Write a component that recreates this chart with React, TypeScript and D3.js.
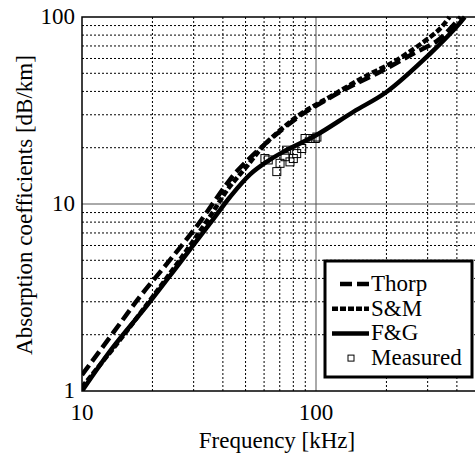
import * as d3 from "d3";

type Pt = [number, number];

// frequency [kHz], absorption [dB/km]
const thorp: Pt[] = [
  [10, 1.22], [13.6, 2.05], [17.7, 3.2], [23.4, 4.9], [30.9, 7.6], [40.8, 12.4],
  [46, 15.0], [61.5, 21.3], [85, 29.5], [100, 33.5], [135, 41.5], [188, 50.9],
  [260, 63.6], [327, 74], [362, 83], [415, 100],
];
const sm: Pt[] = [
  [10, 1.05], [14.5, 1.87], [19.5, 3.05], [26.1, 5.0], [35.3, 8.6], [42, 12.0],
  [50, 15.6], [61.5, 21.3], [85, 30], [100, 34], [115, 37.5], [159, 47.5],
  [220, 58.6], [307, 78], [340, 87], [372, 100],
];
const fg: Pt[] = [
  [10, 1.0], [13.6, 1.72], [18.9, 2.85], [26.2, 4.85], [36.4, 8.3], [42.9, 10.9],
  [52.3, 14.4], [62, 16.9], [72.4, 19.0], [100, 23.3], [145, 31.2], [200, 39.7],
  [307, 63.6], [398, 88.4], [432, 100],
];
const measured: Pt[] = [
  [60.5, 17.5], [62.5, 17.2], [68.0, 14.9], [70.2, 16.5], [73.7, 17.9], [74.9, 19.4],
  [77.4, 16.8], [80.0, 17.5], [82.7, 18.6], [86.9, 19.8], [89.8, 22.4], [94.4, 22.4],
  [99.3, 22.4], [100.9, 22.8],
];

const xTicks = [10, 100];
const yTicks = [1, 10, 100];
const xMinor = [20, 30, 40, 50, 60, 70, 80, 90, 200, 300, 400];
const yMinor = [2, 3, 4, 5, 6, 7, 8, 9, 20, 30, 40, 50, 60, 70, 80, 90];

const legendItems = ["Thorp", "S&M", "F&G", "Measured"];

const FONT = "'Liberation Serif'";

const width = 475;
const height = 458;
const left = 82, top = 17, bottom = 391;
const right = 82 + 234 * Math.log10(50);

const x = d3.scaleLog().domain([10, 500]).range([left, right]);
const y = d3.scaleLog().domain([1, 100]).range([bottom, top]);
const line = d3.line<Pt>().x(d => x(d[0])).y(d => y(d[1])).curve(d3.curveCatmullRom.alpha(0.5));

const txt = { fontFamily: FONT, fontSize: 23 };

export default function App() {
  const rowY = (i: number) => 284 + i * 24.7;
  return (
    <svg width={width} height={height} style={{ position: "absolute", left: 0, top: 0 }}>
      <defs>
        <clipPath id="plot">
          <rect x={left} y={top - 3} width={right - left + 5} height={bottom - top + 3} />
        </clipPath>
      </defs>

      {/* minor grid */}
      <g stroke="#000" strokeWidth={1} strokeDasharray="2,2">
        {xMinor.map(d => <line key={"x" + d} x1={x(d)} x2={x(d)} y1={top} y2={bottom} />)}
        {yMinor.map(d => <line key={"y" + d} x1={left} x2={right} y1={y(d)} y2={y(d)} />)}
      </g>
      {/* major grid */}
      <line x1={x(100)} x2={x(100)} y1={top} y2={bottom} stroke="#555" strokeWidth={1} />
      <line x1={left} x2={right} y1={y(10)} y2={y(10)} stroke="#555" strokeWidth={1} />

      <rect x={left} y={top} width={right - left} height={bottom - top}
        fill="none" stroke="#000" strokeWidth={1.5} />

      <g clipPath="url(#plot)" fill="none" stroke="#000" strokeWidth={4.5}>
        <path d={line(fg)!} />
        <path d={line(thorp)!} strokeDasharray="12,5" />
        <path d={line(sm)!} strokeDasharray="6,2.5" />
      </g>

      <g fill="none" stroke="#000" strokeWidth={1}>
        {measured.map((d, i) => (
          <rect key={i} x={x(d[0]) - 4} y={y(d[1]) - 4} width={8} height={8} />
        ))}
      </g>

      {xTicks.map(d => (
        <text key={"xt" + d} x={x(d)} y={420} textAnchor="middle" style={txt}>{d}</text>
      ))}
      {yTicks.map(d => (
        <text key={"yt" + d} x={75} y={y(d) + 7} textAnchor="end" style={txt}>{d}</text>
      ))}
      <text x={277} y={448} textAnchor="middle" style={txt}>Frequency [kHz]</text>
      <text transform="translate(32,205) rotate(-90)" textAnchor="middle" style={txt}>
        Absorption coefficients [dB/km]
      </text>

      <g>
        <rect x={325} y={261} width={147} height={116} fill="#fff" stroke="#000" strokeWidth={3} />
        <line x1={340} x2={369} y1={rowY(0)} y2={rowY(0)} stroke="#000" strokeWidth={4.5} strokeDasharray="12,5" />
        <line x1={332} x2={369} y1={rowY(1)} y2={rowY(1)} stroke="#000" strokeWidth={4.5} strokeDasharray="6,2" />
        <line x1={332} x2={369} y1={rowY(2)} y2={rowY(2)} stroke="#000" strokeWidth={4.5} />
        <rect x={348} y={rowY(3) - 3} width={6} height={6} fill="none" stroke="#000" strokeWidth={1} />
        {legendItems.map((l, i) => (
          <text key={l} x={371} y={rowY(i) + 7} style={txt}>{l}</text>
        ))}
      </g>
    </svg>
  );
}
